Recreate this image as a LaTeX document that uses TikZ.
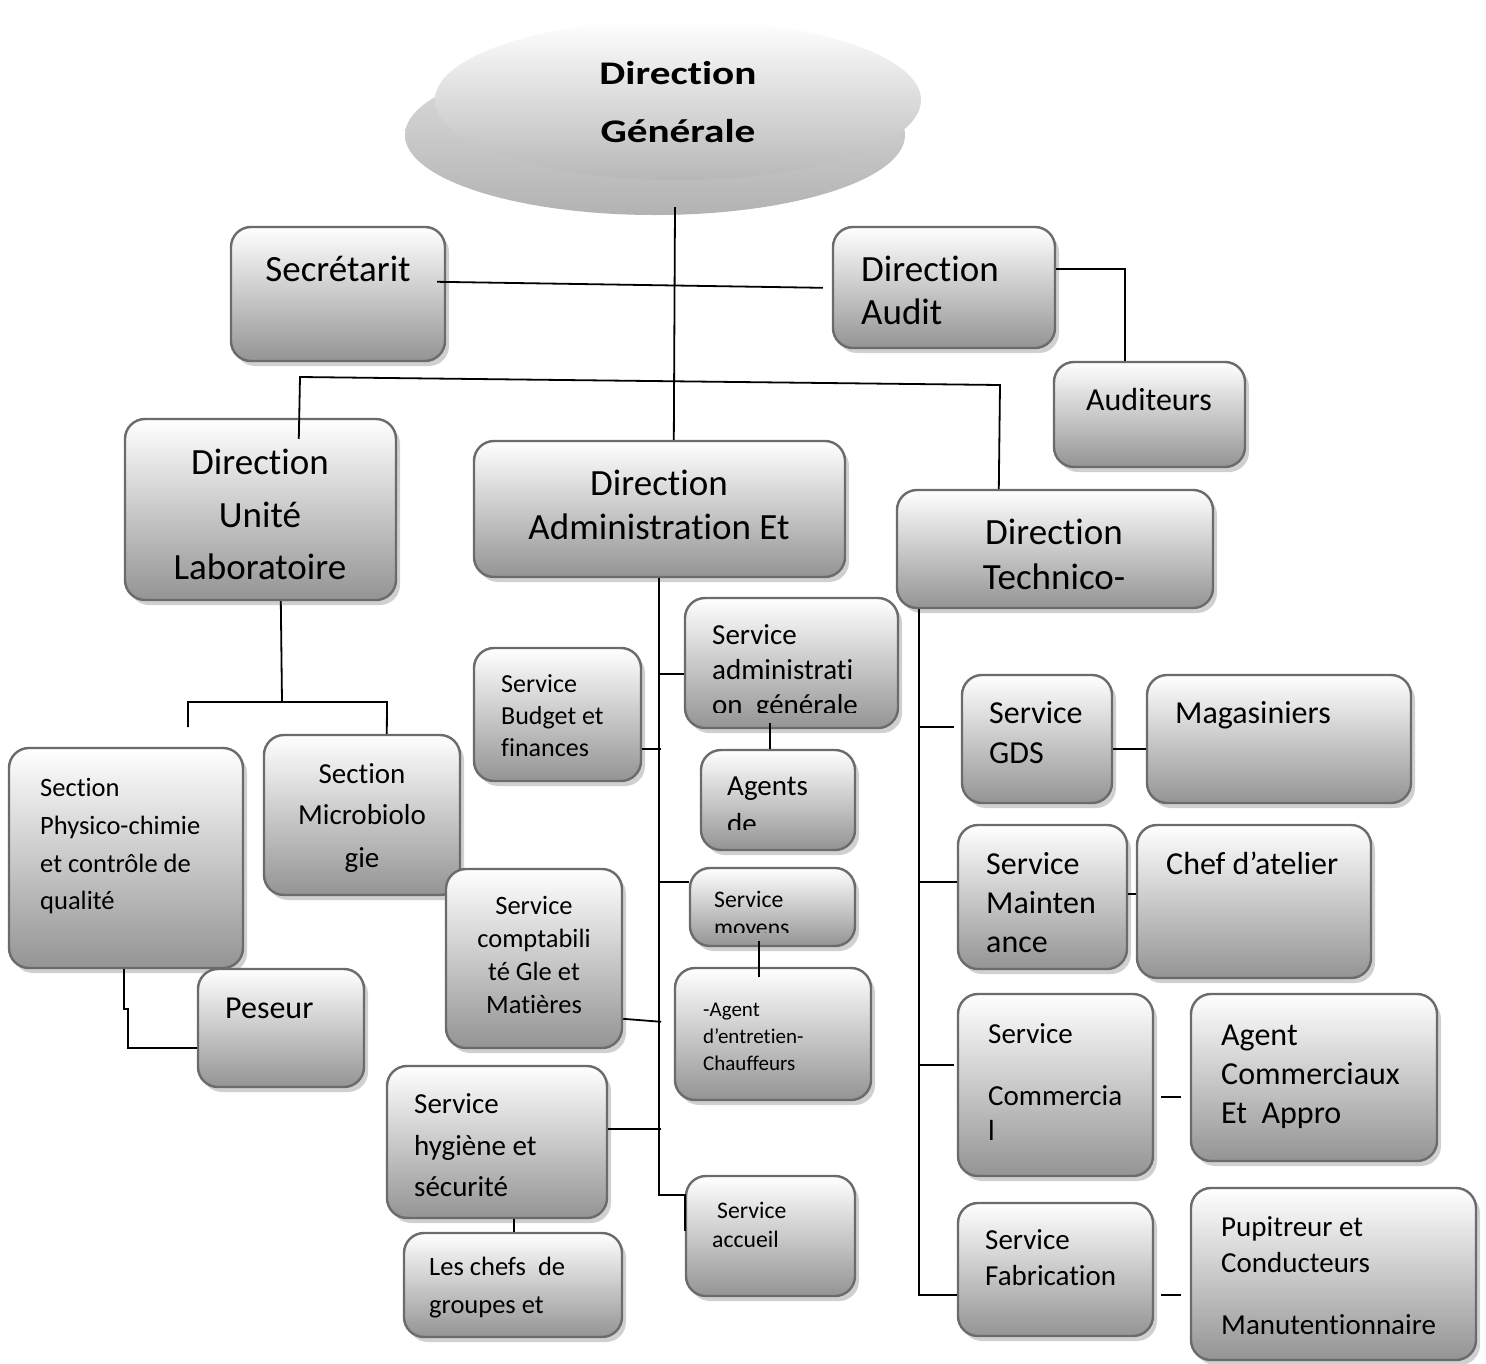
\documentclass[tikz,border=0pt]{standalone}
\usepackage{fontspec}
\setmainfont[Ligatures=NoCommon]{Carlito}
\usetikzlibrary{shapes.geometric,shadows,fit}
\newcommand\fs[1]{\fontsize{#1}{#1}\selectfont}
\tikzset{
  box/.style={draw=black!58, line width=2.4pt, rounded corners=20pt, inner sep=0pt,
    top color=white, bottom color=black!42,
    drop shadow={shadow xshift=4pt, shadow yshift=-5pt, fill=black!30, opacity=0.6}},
  conn/.style={draw=black, line width=1.8pt},
  lt/.style={anchor=mid west, inner sep=0pt},
  ct/.style={anchor=mid, inner sep=0pt},
  f37/.style={font=\fs{37}}, f32/.style={font=\fs{32}}, f29/.style={font=\fs{29}},
  f26/.style={font=\fs{26.5}}, f24/.style={font=\fs{23.7}}, f21/.style={font=\fs{21}},
}
\begin{document}
\begin{tikzpicture}[x=1pt,y=-1pt]
\fill[white] (0,0) rectangle (1486,1363);
\useasboundingbox (0,0) rectangle (1486,1363);

% Direction Generale (bevelled ellipse)
\node[ellipse, draw=none, inner sep=0pt, minimum width=500, minimum height=160,
  top color=black!12, bottom color=black!30] (dgb) at (655,135) {};
\node[ellipse, draw=none, inner sep=0pt, minimum width=486, minimum height=160,
  top color=white, bottom color=black!28] (dg) at (678,100) {};
\node[ct, font=\fs{33}\bfseries] (t1) at (678,82) {\scalebox{1.25}[1]{Direction}};
\node[ct, font=\fs{33}\bfseries] (t2) at (678,140) {\scalebox{1.25}[1]{Générale}};

% boxes
\node[box, fit={(231,227)(445,361)}] (sec) {};
\node[box, fit={(833,227)(1055,348)}] (aud) {};
\node[box, fit={(1054,362)(1245,467)}] (adt) {};
\node[box, fit={(125,419)(396,600)}] (dul) {};
\node[box, fit={(474,441)(845,577)}] (dae) {};
\node[box, fit={(897,490)(1213,608)}] (dtc) {};
\node[box, fit={(264,735)(460,895)}] (mic) {};
\node[box, fit={(9,748)(243,968)}] (phy) {};
\node[box, fit={(198,969)(364,1087)}] (pes) {};
\node[box, fit={(474,648)(641,781)}] (bud) {};
\node[box, fit={(685,598)(898,728)}] (sag) {};
\node[box, fit={(701,750)(855,850)}] (agd) {};
\node[box, fit={(446,869)(622,1048)}] (cpt) {};
\node[box, fit={(690,868)(855,946)}] (moy) {};
\node[box, fit={(675,968)(871,1100)}] (ent) {};
\node[box, fit={(387,1066)(607,1218)}] (hyg) {};
\node[box, fit={(404,1233)(622,1337)}] (chf) {};
\node[box, fit={(686,1176)(855,1296)}] (acc) {};
\node[box, fit={(962,675)(1112,803)}] (gds) {};
\node[box, fit={(1147,675)(1411,803)}] (mag) {};
\node[box, fit={(958,825)(1127,969)}] (mnt) {};
\node[box, fit={(1137,825)(1371,978)}] (cat) {};
\node[box, fit={(958,994)(1153,1176)}] (com) {};
\node[box, fit={(1191,994)(1437,1161)}] (agc) {};
\node[box, fit={(958,1203)(1153,1336)}] (fab) {};
\node[box, fit={(1191,1188)(1476,1360)}] (pup) {};

% texts
\node[ct, f37] (t3) at (338,279) {Secrétarit};
\node[lt, f37] (t4) at (861,279) {Direction};
\node[lt, f37] (t5) at (861,322) {Audit};
\node[ct, f32] (t6) at (1149,408) {Auditeurs};
\node[ct, f37] (t7) at (260,472) {Direction};
\node[ct, f37] (t8) at (260,525) {Unité};
\node[ct, f37] (t9) at (260,577) {Laboratoire};
\node[ct, f37] (t10) at (659,493) {Direction};
\node[ct, f37] (t11) at (659,537) {Administration Et};
\node[ct, f37] (t12) at (1054,542) {Direction};
\node[ct, f37] (t13) at (1054,587) {Technico-};
\node[lt, f26] (t14) at (40,794) {Section};
\node[lt, f26] (t15) at (40,832) {Physico-chimie};
\node[lt, f26] (t16) at (40,870) {et contrôle de};
\node[lt, f26] (t17) at (40,907) {qualité};
\node[ct, f29] (t18) at (362,781) {Section};
\node[ct, f29] (t19) at (362,822) {Microbiolo};
\node[ct, f29] (t20) at (362,865) {gie};
\node[lt, f32] (t21) at (225,1016) {Peseur};
\node[lt, font=\fs{26}] (t22) at (501,690) {Service};
\node[lt, font=\fs{26}] (t23) at (501,722) {Budget et};
\node[lt, font=\fs{26}] (t24) at (501,754) {finances};
\begin{scope}
\clip (685,598) rectangle (898,712);
\node[lt, f29] (t25) at (712,642) {Service};
\node[lt, f29] (t26) at (712,677) {administrati};
\node[lt, f29] (t27) at (712,712) {on~ générale};
\end{scope}
\begin{scope}
\clip (701,750) rectangle (855,829);
\node[lt, f29] (t28) at (727,793) {Agents};
\node[lt, f29] (t29) at (727,831) {de};
\end{scope}
\begin{scope}
\clip (690,868) rectangle (855,932);
\node[lt, f24] (t30) at (714,905) {Service};
\node[lt, f24] (t31) at (714,933) {moyens};
\end{scope}
\node[lt, f21] (t32) at (703,1014) {-Agent};
\node[lt, f21] (t33) at (703,1041) {d’entretien-};
\node[lt, f21] (t34) at (703,1068) {Chauffeurs};
\node[ct, f26] (t35) at (534,912) {Service};
\node[ct, f26] (t36) at (534,945) {comptabili};
\node[ct, f26] (t37) at (534,978) {té Gle et};
\node[ct, f26] (t38) at (534,1011) {Matières};
\node[lt, f29] (t39) at (414,1111) {Service};
\node[lt, f29] (t40) at (414,1153) {hygiène et};
\node[lt, f29] (t41) at (414,1194) {sécurité};
\node[lt, f26] (t42) at (429,1273) {Les chefs~ de};
\node[lt, f26] (t43) at (429,1311) {groupes et};
\node[lt, f24] (t44) at (717,1216) {Service};
\node[lt, f24] (t45) at (712,1245) {accueil};
\node[lt, f32] (t46) at (989,721) {Service};
\node[lt, f32] (t47) at (989,761) {GDS};
\node[lt, f32] (t48) at (1175,721) {Magasiniers};
\node[lt, f32] (t49) at (986,872) {Service};
\node[lt, f32] (t50) at (986,911) {Mainten};
\node[lt, f32] (t51) at (986,950) {ance};
\node[lt, f32] (t52) at (1166,872) {Chef d’atelier};
\node[lt, f29] (t53) at (988,1041) {Service};
\node[lt, f29] (t54) at (988,1103) {Commercia};
\node[lt, f29] (t55) at (988,1138) {l};
\node[lt, f32] (t56) at (1221,1043) {Agent};
\node[lt, f32] (t57) at (1221,1082) {Commerciaux};
\node[lt, f32] (t58) at (1221,1121) {Et~ Appro};
\node[lt, f29] (t59) at (985,1247) {Service};
\node[lt, f29] (t60) at (985,1283) {Fabrication};
\node[lt, f29] (t61) at (1221,1234) {Pupitreur et};
\node[lt, f29] (t62) at (1221,1270) {Conducteurs};
\node[lt, f29] (t63) at (1221,1332) {Manutentionnaire};

% coordinates for bends
\coordinate (b1) at (300,377);
\coordinate (b2) at (1000,385);
\coordinate (lj) at (282,702);
\coordinate (ll) at (188,702);
\coordinate (lr) at (387,702);
\coordinate (lf) at (188,727);

% connectors
\draw[conn] ([shift={(20,-8)}]dgb.south) -- ([shift={(201,0)}]dae.north west);
\draw[conn] ([shift={(-9,56)}]sec.north east) -- ([shift={(-9,62)}]aud.north west);
\draw[conn] ([shift={(0,43)}]aud.north east) -| ([shift={(72,0)}]adt.north west);
\draw[conn] ([shift={(175,21)}]dul.north west) -- (b1) -- (b2) -- ([shift={(103,0)}]dtc.north west);
\draw[conn] ([shift={(157,0)}]dul.south west) -- (lj);
\draw[conn] (lf) -- (ll) -- (lr) -- ([shift={(124,0)}]mic.north west);
\draw[conn] ([shift={(116,0)}]phy.south west) -- ++(0,40) -- ++(4,0) |- ([shift={(0,-40)}]pes.south west);
% central trunk
\draw[conn] ([shift={(186,0)}]dae.south west) |- ([shift={(0,20)}]acc.north west) -- ++(0,36);
\draw[conn] ([shift={(0,77)}]sag.north west) -- ++(-25,0);
\draw[conn] ([shift={(0,102)}]bud.north east) -- ++(19,0);
\draw[conn] ([shift={(0,15)}]moy.north west) -- ++(-30,0);
\draw[conn] ([shift={(0,151)}]cpt.north east) -- ++(38,3);
\draw[conn] ([shift={(0,64)}]hyg.north east) -- ++(53,0);
\draw[conn] ([shift={(86,-6)}]sag.south west) -- ([shift={(70,0)}]agd.north west);
\draw[conn] ([shift={(70,-6)}]moy.south west) -- ([shift={(85,10)}]ent.north west);
\draw[conn] ([shift={(128,0)}]hyg.south west) -- ([shift={(111,0)}]chf.north west);
% right trunk
\draw[conn] ([shift={(23,0)}]dtc.south west) |- ([shift={(0,93)}]fab.north west);
\draw[conn] ([shift={(-7,53)}]gds.north west) -- ++(-35,0);
\draw[conn] ([shift={(0,58)}]mnt.north west) -- ++(-38,0);
\draw[conn] ([shift={(-3,72)}]com.north west) -- ++(-35,0);
\draw[conn] ([shift={(0,75)}]gds.north east) -- ([shift={(0,75)}]mag.north west);
\draw[conn] ([shift={(0,70)}]mnt.north east) -- ([shift={(0,70)}]cat.north west);
\draw[conn] ([shift={(7,104)}]com.north east) -- ++(20,0);
\draw[conn] ([shift={(7,93)}]fab.north east) -- ++(20,0);
\end{tikzpicture}
\end{document}
